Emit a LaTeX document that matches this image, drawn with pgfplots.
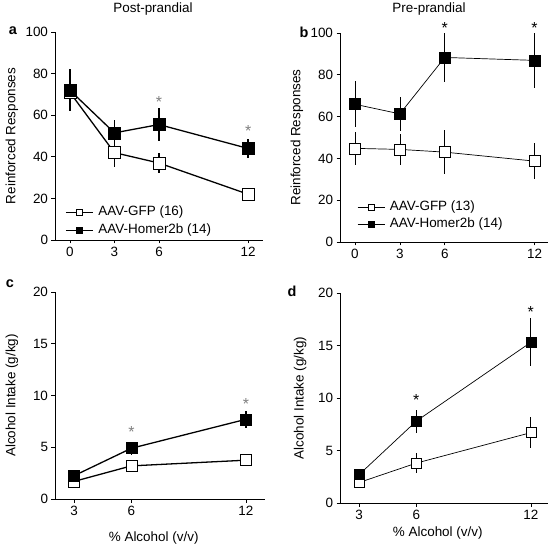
\documentclass[border=0pt]{standalone}
\usepackage{pgfplots}
\pgfplotsset{compat=1.18}
\usepackage{fontspec}
\setmainfont{Liberation Sans}
\newcommand{\f}{\fontsize{13.5}{15}\selectfont}
\tikzset{ast/.style={font=\fontsize{16}{16}\selectfont, yshift=-3bp}}
\pgfplotsset{
 myax/.style={
  scale only axis,
  axis x line*=bottom, axis y line*=left,
  axis line style={-, line width=0.6pt},
  tick align=outside,
  major tick length=3.5bp,
  tick style={black, line width=0.6pt},
  /pgf/number format/assume math mode=true,
  tick label style={font=\f},
  label style={font=\f},
  clip=false,
  legend cell align=left,
  legend image code/.code={\draw[mark repeat=2,mark phase=2,##1, mark size=3.2bp] plot coordinates {(0bp,0bp)(13.5bp,0bp)(27bp,0bp)};},
  legend style={draw=none, fill=none, font=\f, inner sep=0pt, nodes={inner sep=0pt, text height=10bp, text depth=3bp}, column sep=5bp},
 },
 gfp/.style={black, line width=#1, mark=square*, mark options={fill=white, line width=0.6pt, solid},
   error bars/.cd, y dir=both, y explicit, error mark=none, error bar style={line width=#1}, /pgfplots/.cd},
 hom/.style={black, line width=#1, mark=square*, mark options={fill=black, line width=0.6pt, solid},
   error bars/.cd, y dir=both, y explicit, error mark=none, error bar style={line width=#1}, /pgfplots/.cd},
}
\begin{document}
\begin{tikzpicture}
\path[use as bounding box] (0,0) rectangle (550bp,547bp);
% panel a
\begin{axis}[myax, at={(55bp,307bp)}, anchor=south west, width=208bp, height=208bp,
  xmin=-1, xmax=13, ymin=0, ymax=100, xtick={0,3,6,12}, ytick={0,20,40,60,80,100},
  ylabel={Reinforced Responses}, ylabel style={at={(axis description cs:-0.207,0.5)}, anchor=center},
  legend style={at={(axis description cs:0,0)}, anchor=north west, xshift=10bp, yshift=34.5bp, row sep=5bp}]
\addplot[gfp=1.3pt, mark size=6bp] table[x=x,y=y,y error=e] {
x y e
0 71 8
3 42 7
6 37 4.6
12 22 3
};
\addlegendentry{AAV-GFP (16)}
\addplot[hom=1.3pt, mark size=6bp] table[x=x,y=y,y error=e] {
x y e
0 72 10
3 51.5 6
6 55.5 7.8
12 44 4.6
};
\addlegendentry{AAV-Homer2b (14)}
\node[ast, gray] at (axis cs:6,68) {*};
\node[ast, gray] at (axis cs:12,54) {*};
\end{axis}
% panel b
\begin{axis}[myax, at={(340bp,305bp)}, anchor=south west, width=208bp, height=209bp,
  xmin=-1, xmax=12.9, ymin=0, ymax=100, xtick={0,3,6,12}, ytick={0,20,40,60,80,100},
  ylabel={Reinforced Responses}, ylabel style={at={(axis description cs:-0.207,0.5)}, anchor=center},
  legend style={at={(axis description cs:0,0)}, anchor=north west, xshift=17bp, yshift=41.5bp, row sep=4bp}]
\addplot[gfp=0.7pt, mark size=5.5bp] table[x=x,y=y,y error=e] {
x y e
0 44.8 8
3 44.3 7.4
6 43 10.4
12 38.7 8.5
};
\addlegendentry{AAV-GFP (13)}
\addplot[hom=0.7pt, mark size=5.5bp] table[x=x,y=y,y error=e] {
x y e
0 65.9 11
3 61.3 8.3
6 88.3 11.6
12 86.9 13
};
\addlegendentry{AAV-Homer2b (14)}
\node[ast] at (axis cs:6,104) {*};
\node[ast] at (axis cs:12,104) {*};
\end{axis}
% panel c
\begin{axis}[myax, at={(55bp,48bp)}, anchor=south west, width=210bp, height=207bp,
  xmin=2, xmax=13, ymin=0, ymax=20, xtick={3,6,12}, ytick={0,5,10,15,20},
  ylabel={Alcohol Intake (g/kg)}, ylabel style={at={(axis description cs:-0.205,0.5)}, anchor=center},
  xlabel={\% Alcohol (v/v)}, xlabel style={at={(axis description cs:0.47,-0.188)}, anchor=center}]
\addplot[gfp=1.3pt, mark size=5.5bp] table[x=x,y=y,y error=e] {
x y e
3 1.7 0.3
6 3.2 0.4
12 3.75 0.55
};
\addplot[hom=1.3pt, mark size=5.5bp] table[x=x,y=y,y error=e] {
x y e
3 2.25 0.3
6 4.9 0.65
12 7.7 0.85
};
\node[ast, gray] at (axis cs:6,6.75) {*};
\node[ast, gray] at (axis cs:12,9.5) {*};
\end{axis}
% panel d
\begin{axis}[myax, at={(340bp,44bp)}, anchor=south west, width=208bp, height=210bp,
  xmin=2, xmax=12.9, ymin=0, ymax=20, xtick={3,6,12}, ytick={0,5,10,15,20},
  ylabel={Alcohol Intake (g/kg)}, ylabel style={at={(axis description cs:-0.192,0.5)}, anchor=center},
  xlabel={\% Alcohol (v/v)}, xlabel style={at={(axis description cs:0.47,-0.143)}, anchor=center}]
\addplot[gfp=0.7pt, mark size=5bp] table[x=x,y=y,y error=e] {
x y e
3 1.95 0.3
6 3.8 0.95
12 6.7 1.5
};
\addplot[hom=0.7pt, mark size=5bp] table[x=x,y=y,y error=e] {
x y e
3 2.7 0.3
6 7.8 1.1
12 15.3 2.3
};
\node[ast] at (axis cs:6,10.1) {*};
\node[ast] at (axis cs:12,18.5) {*};
\end{axis}
\node[anchor=base, font=\f] at (153bp,534bp) {Post-prandial};
\node[anchor=base, font=\f] at (429bp,534bp) {Pre-prandial};
\node[anchor=base, font=\fontsize{14.5}{15}\selectfont\bfseries] at (13bp,512bp) {a};
\node[anchor=base, font=\fontsize{14.5}{15}\selectfont\bfseries] at (304bp,509bp) {b};
\node[anchor=base, font=\fontsize{14.5}{15}\selectfont\bfseries] at (10bp,259bp) {c};
\node[anchor=base, font=\fontsize{14.5}{15}\selectfont\bfseries] at (292bp,250bp) {d};
\end{tikzpicture}
\end{document}
